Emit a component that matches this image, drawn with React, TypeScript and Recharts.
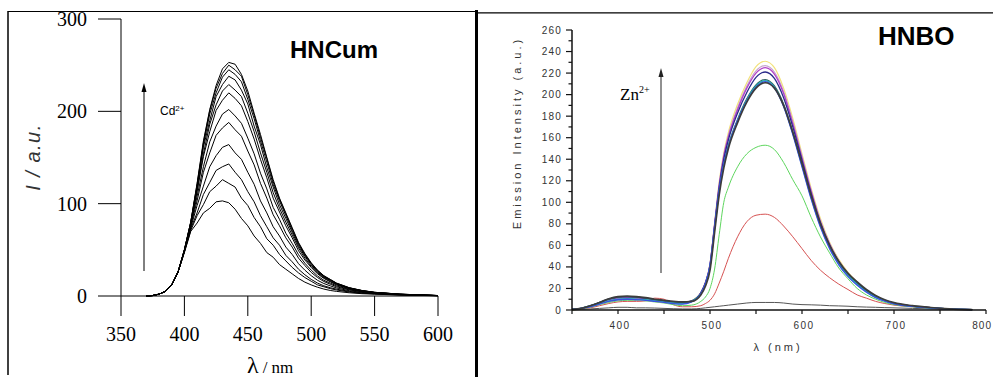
import React from 'react';
import { LineChart, Line, XAxis, YAxis } from 'recharts';

// HNCum + Cd2+ titration (left panel)
const cumWavelengths = [370, 375, 380, 385, 390, 395, 400, 405, 410, 415, 420, 425, 430, 435, 440, 445, 450, 455, 460, 465, 470, 475, 480, 485, 490, 495, 500, 505, 510, 515, 520, 530, 540, 550, 560, 570, 580, 590, 600];
const cum1 = [0, 0.5, 2, 5, 12, 26, 47, 70, 79, 90, 95, 102, 103, 101, 94, 84, 76, 65, 57, 47, 42, 34, 29, 24, 19, 15, 12, 9.5, 7.5, 6, 5, 3.5, 2.5, 2, 1.5, 1, 0.8, 0.5, 0.3];
const cum2 = [0, 0.5, 2, 5, 12, 26, 48, 71, 87, 99, 113, 119, 126, 122, 118, 106, 98, 85, 75, 62, 55, 45, 38, 31, 25, 20, 16, 12, 10, 8, 6.5, 4.3, 3, 2.3, 1.7, 1.2, 0.9, 0.6, 0.3];
const cum3 = [0, 0.5, 2, 5, 12, 26, 48, 73, 90, 110, 123, 136, 140, 143, 134, 126, 113, 102, 87, 75, 63, 55, 44, 37, 29, 23, 18, 14, 11, 9, 7.4, 5, 3.4, 2.5, 1.9, 1.3, 1, 0.6, 0.35];
const cum4 = [0, 0.5, 2, 5, 12, 26, 48, 74, 98, 119, 140, 152, 161, 164, 155, 148, 134, 121, 103, 90, 75, 65, 53, 45, 35, 28, 22, 17, 13.5, 11, 8.7, 5.7, 3.9, 2.8, 2.1, 1.4, 1.1, 0.7, 0.4];
const cum5 = [0, 0.5, 2, 5, 12, 26, 49, 76, 103, 134, 155, 174, 182, 188, 180, 173, 157, 142, 122, 106, 88, 76, 63, 53, 41, 33, 25.6, 20, 15.7, 12.8, 10, 6.6, 4.5, 3.1, 2.4, 1.6, 1.2, 0.8, 0.4];
const cum6 = [0, 0.5, 2, 5, 12, 26, 49, 77, 108, 140, 167, 184, 197, 202, 195, 187, 171, 154, 133, 116, 96, 83, 68, 57, 44.7, 35.5, 28, 21.7, 17, 14, 11, 7.1, 4.8, 3.3, 2.5, 1.7, 1.3, 0.8, 0.4];
const cum7 = [0, 0.5, 2, 5, 12, 26, 49, 78, 113, 151, 178, 201, 212, 220, 214, 206, 189, 170, 148, 128, 106, 91, 76, 63, 49, 39, 31, 24, 19, 15.4, 12, 7.8, 5.2, 3.6, 2.7, 1.8, 1.3, 0.9, 0.45];
const cum8 = [0, 0.5, 2, 5, 12, 26, 50, 78, 115, 154, 186, 207, 222, 229, 223, 216, 198, 178, 155, 134, 112, 95, 80, 66, 52, 41, 32, 25, 19.7, 16, 12.6, 8.1, 5.4, 3.7, 2.8, 1.8, 1.4, 0.9, 0.47];
const cum9 = [0, 0.5, 2, 5, 12, 26, 50, 79, 118, 161, 190, 216, 229, 238, 234, 223, 208, 184, 164, 139, 118, 99, 84, 69, 54, 43, 33.6, 26, 20.6, 16.8, 13.1, 8.5, 5.7, 3.8, 2.9, 1.9, 1.4, 0.95, 0.48];
const cum10 = [0, 0.5, 2, 5, 12, 26, 50, 80, 119, 164, 197, 220, 237, 245, 240, 232, 213, 192, 168, 145, 121, 103, 87, 71, 56, 44, 35, 27, 21, 17.4, 13.5, 8.7, 5.8, 3.9, 2.9, 1.9, 1.5, 1, 0.5];
const cum11 = [0, 0.5, 2, 5, 12, 26, 50, 80, 121, 166, 201, 225, 241, 250, 245, 238, 218, 196, 172, 149, 124, 105, 89, 73, 57, 45, 35.5, 27.6, 21.7, 17.8, 13.8, 8.9, 5.9, 4, 3, 2, 1.5, 1, 0.5];
const cum12 = [0, 0.5, 2, 5, 12, 26, 50, 80, 122, 168, 202, 228, 246, 253, 251, 240, 222, 198, 175, 150, 126, 106, 90, 74, 58, 46, 36, 28, 22, 18, 14, 9, 6, 4, 3, 2, 1.5, 1, 0.5];
const cumSeries = [cum1, cum2, cum3, cum4, cum5, cum6, cum7, cum8, cum9, cum10, cum11, cum12];
const cumXTicks = [350, 400, 450, 500, 550, 600];
const cumYTicks = [0, 100, 200, 300];

// HNBO + Zn2+ titration (right panel)
const hnboWavelengths = [350, 360, 370, 380, 390, 400, 410, 420, 430, 440, 450, 460, 470, 480, 490, 495, 500, 505, 510, 515, 520, 530, 540, 550, 560, 570, 580, 590, 600, 610, 620, 630, 640, 650, 660, 670, 680, 690, 700, 720, 740, 760, 785];
const hnboFree = [0, 0.5, 1, 1.5, 2, 2.5, 2.5, 2, 2, 1.8, 1.5, 1.2, 1, 1, 1.5, 2, 2.5, 3, 3.5, 4, 4.5, 5.5, 6.5, 7, 7, 7, 6.5, 5.5, 5, 4.8, 4.5, 4, 3.8, 3.5, 3, 2.7, 2.5, 2.2, 2, 1.5, 1, 0.5, 0.2];
const hnboRed = [0, 1, 2, 4, 6, 7.5, 8, 8, 8.5, 11, 10, 5, 3, 3, 4, 6, 9, 15, 25, 36, 48, 68, 82, 88, 89, 86, 78, 68, 57, 46, 37, 30, 24, 19, 14, 11, 8, 6, 4.5, 3, 2, 1, 0.3];
const hnboGreen = [0, 1, 2.5, 5, 7, 8.5, 9, 9, 8.5, 7.5, 6.5, 5, 4, 4.5, 8, 12, 20, 38, 70, 100, 114, 133, 145, 151, 153, 149, 137, 121, 106, 86, 68, 53, 39, 29, 20, 14, 10, 7, 5, 3, 2, 1, 0.3];
const hnboYellow = [0.5, 1.5, 3, 5.5, 8, 9.5, 10, 9.5, 9, 8, 7, 6.5, 6, 8.5, 16, 26, 43, 81, 119, 146, 165, 191, 211, 226, 231, 225, 206, 178, 145, 113, 85, 63, 47, 35, 26, 18, 13, 9, 6.5, 3.8, 2.2, 1, 0.3];
const hnboPink = [0.5, 1.5, 3.5, 6, 9, 10.5, 11, 10.5, 10, 9, 8, 7, 6.5, 8, 16, 25, 42, 80, 117, 144, 162, 188, 208, 222, 227, 221, 203, 175, 143, 111, 83, 62, 46, 34, 26, 18, 13, 9, 6.4, 3.7, 2.1, 1, 0.3];
const hnboMagenta = [0.5, 1.5, 3.5, 6.5, 9.5, 11, 11.5, 11, 10.5, 9, 8, 7, 6.5, 8, 16, 25, 42, 79, 116, 143, 161, 186, 206, 220, 225, 219, 201, 173, 141, 110, 82, 61, 45, 34, 25, 18, 12.7, 9, 6.3, 3.7, 2.1, 1, 0.3];
const hnboNavy = [0.5, 1.5, 4, 7, 10, 12, 12.5, 12, 11, 9.5, 8.5, 7.5, 7, 8.5, 16, 25, 41, 78, 114, 140, 158, 183, 202, 216, 221, 215, 197, 170, 139, 108, 81, 60, 45, 33, 25, 18, 12.5, 8.8, 6.2, 3.6, 2.1, 1, 0.3];
const hnboSlate = [0.5, 1.5, 4, 7, 10, 12, 12.5, 12, 11, 9.5, 8.5, 7.5, 7, 8, 15, 24, 40, 76, 111, 136, 153, 177, 196, 209, 214, 208, 191, 165, 135, 105, 79, 59, 44, 33, 25, 18, 12.5, 9, 6.3, 3.7, 2.1, 1, 0.3];
const hnboTeal = [0.5, 1.5, 3.5, 6, 8.5, 10, 10.5, 10, 9.5, 8.5, 7.5, 6.5, 6, 8, 15, 24, 40, 75, 110, 135, 152, 176, 195, 208, 213, 207, 190, 164, 134, 104, 78, 58, 43, 32, 24, 17, 12, 8.5, 6, 3.5, 2, 1, 0.3];
const hnboBlue = [0.5, 1.5, 3, 5.5, 8, 9.5, 10, 9.5, 9, 8, 7, 6, 5.5, 7.5, 15, 25, 42, 78, 112, 136, 152, 176, 194, 207, 212, 206, 189, 163, 133, 103, 77, 57, 42, 31, 23, 16.5, 11.5, 8.2, 5.8, 3.4, 2, 1, 0.3];
const hnboDark = [0.5, 1.5, 4, 7, 10.5, 12.5, 13, 12.5, 11.5, 10, 9, 8, 7.5, 8, 14, 22, 37, 72, 107, 132, 150, 174, 193, 206, 211, 206, 190, 165, 136, 106, 80, 60, 45, 34, 26, 19, 13.5, 9.5, 6.8, 4, 2.3, 1.1, 0.4];
const hnboSeries = [hnboFree, hnboRed, hnboGreen, hnboYellow, hnboPink, hnboMagenta, hnboNavy, hnboSlate, hnboTeal, hnboBlue, hnboDark];
const hnboColors = ['#555555', '#d65252', '#5ed65e', '#f2e27c', '#c8a8cc', '#b040c8', '#2a2a8a', '#2f5f5f', '#22b0b0', '#3a50e0', '#3c3c3c'];
const hnboWidths = [1, 1, 1, 1.2, 1.2, 1.3, 1.3, 1.3, 1.3, 1.3, 1.7];
const hnboXTicks = [350, 400, 450, 500, 550, 600, 650, 700, 750, 800];
const hnboYTicks = [0, 10, 20, 30, 40, 50, 60, 70, 80, 90, 100, 110, 120, 130, 140, 150, 160, 170, 180, 190, 200, 210, 220, 230, 240, 250, 260];

const cumData = cumWavelengths.map((wl, i) => {
  const row: Record<string, number> = { wl };
  cumSeries.forEach((s, j) => { row['c' + j] = s[i]; });
  return row;
});

const hnboData = hnboWavelengths.map((wl, i) => {
  const row: Record<string, number> = { wl };
  hnboSeries.forEach((s, j) => { row['h' + j] = s[i]; });
  return row;
});

const serif = '"Liberation Serif", "Times New Roman", serif';
const sans = '"Liberation Sans", Arial, sans-serif';

const CumXTick = (props: any) => {
  const { x, y, payload } = props;
  return (
    <text x={x} y={y} dy="0.71em" textAnchor="middle" fontSize={20} fontFamily={serif} style={{ fontFamily: serif }} fill="#000">
      {payload.value}
    </text>
  );
};

const CumYTick = (props: any) => {
  const { x, y, payload } = props;
  return (
    <text x={x} y={y} dy="0.35em" textAnchor="end" fontSize={20} fontFamily={serif} style={{ fontFamily: serif }} fill="#000">
      {payload.value}
    </text>
  );
};

const HnboYTick = (props: any) => {
  const { x, y, payload } = props;
  const major = payload.value % 20 === 0;
  return (
    <g>
      <line x1={x - (major ? 6 : 3.5)} x2={x} y1={y} y2={y} stroke="#111" strokeWidth={1.2} />
      {major && (
        <text x={x - 10} y={y} dy="0.35em" textAnchor="end" fontSize={10} letterSpacing={1.2} fill="#333" fontFamily={sans}>
          {payload.value}
        </text>
      )}
    </g>
  );
};

const HnboXTick = (props: any) => {
  const { x, y, payload } = props;
  const major = payload.value % 100 === 0;
  // the last label sits on the page edge: anchor it at its end so it stays inside
  const last = payload.value === 800;
  return (
    <g>
      <line x1={x} x2={x} y1={y} y2={y + 4} stroke="#111" strokeWidth={1.2} />
      {major && (
        <text x={last ? x + 6 : x + 2} y={y + 15} dy="0.35em" textAnchor={last ? 'end' : 'middle'} fontSize={10} letterSpacing={last ? 1 : 1.5} fill="#333" fontFamily={sans}>
          {payload.value}
        </text>
      )}
    </g>
  );
};

export default function App() {
  return (
    <div style={{ position: 'absolute', left: 0, top: 0, width: 993, height: 377, background: '#fff', overflow: 'hidden' }}>
      <div style={{ position: 'absolute', left: 0, top: 0 }}>
        <LineChart width={480} height={377} data={cumData} margin={{ top: 19, right: 42, bottom: 21, left: 0 }}>
          <XAxis
            dataKey="wl"
            type="number"
            domain={[350, 600]}
            ticks={cumXTicks}
            interval={0}
            height={60}
            tickSize={20}
            tickMargin={11}
            stroke="#000"
            tick={<CumXTick />}
          />
          <YAxis
            type="number"
            domain={[0, 300]}
            ticks={cumYTicks}
            interval={0}
            width={121}
            tickSize={23}
            tickMargin={11}
            stroke="#000"
            tick={<CumYTick />}
          />
          {cumSeries.map((_, j) => (
            <Line key={j} dataKey={'c' + j} type="linear" stroke="#000" strokeWidth={1} dot={false} isAnimationActive={false} />
          ))}
        </LineChart>
      </div>
      <div style={{ position: 'absolute', left: 480, top: 0 }}>
        <LineChart width={513} height={377} data={hnboData} margin={{ top: 30, right: 7, bottom: 37, left: 0 }}>
          <XAxis
            dataKey="wl"
            type="number"
            domain={[350, 800]}
            ticks={hnboXTicks}
            interval={0}
            height={30}
            tickSize={0}
            tickMargin={0}
            stroke="#111"
            strokeWidth={1.5}
            tick={<HnboXTick />}
          />
          <YAxis
            type="number"
            domain={[0, 260]}
            ticks={hnboYTicks}
            interval={0}
            width={92}
            tickSize={0}
            tickMargin={0}
            stroke="#111"
            strokeWidth={1.5}
            tick={<HnboYTick />}
          />
          {hnboSeries.map((_, j) => (
            <Line key={j} dataKey={'h' + j} type="monotone" stroke={hnboColors[j]} strokeWidth={hnboWidths[j]} dot={false} isAnimationActive={false} />
          ))}
        </LineChart>
      </div>
      <svg width={993} height={377} style={{ position: 'absolute', left: 0, top: 0, pointerEvents: 'none' }}>
        {/* panel frames */}
        <line x1={8} y1={11.5} x2={476} y2={11.5} stroke="#000" strokeWidth={1} />
        <line x1={8} y1={11} x2={8} y2={375} stroke="#000" strokeWidth={1.5} />
        <line x1={476.5} y1={10} x2={476.5} y2={377} stroke="#000" strokeWidth={3} />
        <line x1={478} y1={12.8} x2={993} y2={12.8} stroke="#000" strokeWidth={1.3} />

        {/* left panel text */}
        <text x={290} y={58} fontFamily={sans} fontWeight="bold" fontSize={24} fill="#000">HNCum</text>
        <text x={160} y={115} fontFamily={sans} fontSize={12} fill="#000">
          Cd<tspan fontSize={8} dy={-4}>2+</tspan>
        </text>
        <line x1={144} y1={271} x2={144} y2={90} stroke="#000" strokeWidth={1} />
        <polygon points="144,83 141.5,92 146.5,92" fill="#000" />
        <text x={33} y={157} transform="rotate(-90 33 157)" textAnchor="middle" dominantBaseline="central" fontFamily={sans} fontStyle="italic" fontSize={20} letterSpacing={1.5} fill="#333">
          I / a.u.
        </text>
        <text x={247} y={373} fontFamily={serif} fill="#000">
          <tspan fontSize={24}>λ</tspan>
          <tspan fontSize={17} dx={4}>/ nm</tspan>
        </text>

        {/* right panel text */}
        <text x={878} y={45} fontFamily={sans} fontWeight="bold" fontSize={26} fill="#000">HNBO</text>
        <text x={620} y={100} fontFamily={serif} fontSize={17} fill="#000">
          Zn<tspan fontSize={10} dy={-7}>2+</tspan>
        </text>
        <line x1={661} y1={273} x2={661} y2={75} stroke="#222" strokeWidth={1} />
        <polygon points="661,68 658.5,77 663.5,77" fill="#222" />
        <text x={517} y={133} transform="rotate(-90 517 133)" textAnchor="middle" dominantBaseline="central" fontFamily={sans} fontSize={11} letterSpacing={3} fill="#333">
          Emission Intensity (a.u.)
        </text>
        <text x={778} y={347} textAnchor="middle" dominantBaseline="central" fontFamily={sans} fontSize={11} letterSpacing={3} fill="#333">
          λ (nm)
        </text>
      </svg>
    </div>
  );
}
